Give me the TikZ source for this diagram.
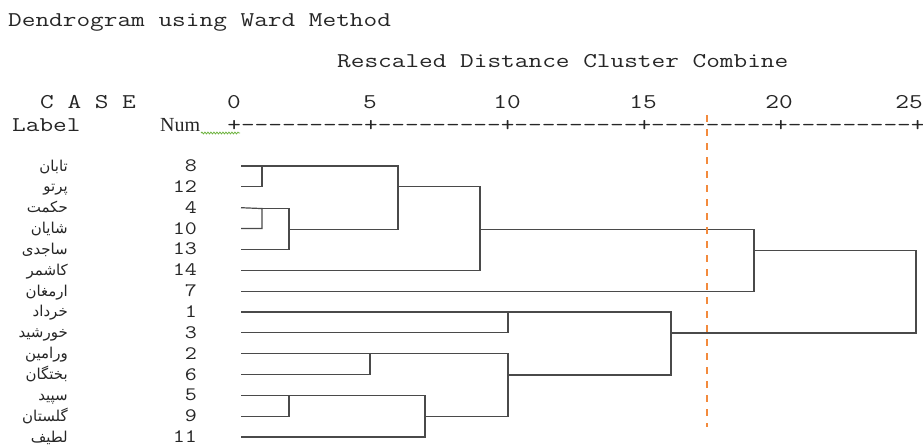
\documentclass[tikz,border=0pt]{standalone}
\usepackage{fontspec}
\setmainfont{Liberation Serif}
\newfontfamily\arabicfont[Script=Arabic]{DejaVu Sans}
\TeXXeTstate=1
\usetikzlibrary{decorations.pathmorphing}
\definecolor{txt}{HTML}{262626}
\definecolor{dline}{HTML}{4A4A4A}
\definecolor{cutc}{HTML}{F38A3C}
\definecolor{squig}{HTML}{6DB33F}
\newcommand{\monobig}{\fontsize{21}{24}\selectfont\ttfamily}
\newcommand{\mononum}{\fontsize{19}{22}\selectfont\ttfamily}
\newcommand{\wide}[1]{\scalebox{1.264}[1]{#1}}
\newcommand{\widen}[1]{\scalebox{1.229}[1]{#1}}
\tikzset{
  mtext/.style={inner sep=0pt, anchor=base west, text=txt, font=\monobig},
  ticklab/.style={inner sep=0pt, anchor=base, text=txt, font=\monobig},
  numlab/.style={inner sep=0pt, anchor=base east, text=txt, font=\mononum},
  namelab/.style={inner sep=0pt, anchor=base east, text=txt, font=\arabicfont\fontsize{15}{17}\selectfont},
  tree/.style={draw=dline, line width=1.2pt},
  cutline/.style={draw=cutc, line width=2.8pt, dash pattern=on 7pt off 7pt},
}
\begin{document}
\begin{tikzpicture}[x=1pt,y=-1pt]
\useasboundingbox (0,0) rectangle (923,445);
% headings
\node[mtext] (title) at (8,26) {\wide{Dendrogram using Ward Method}};
\node[mtext] (sub) at (337,67) {\wide{Rescaled Distance Cluster Combine}};
\node[mtext] (case) at (40,108) {\wide{C A S E}};
\node[mtext] (label) at (12,131) {\wide{Label}};
\node[inner sep=0pt, anchor=base west, text=txt, font=\fontsize{20}{22}\selectfont\rmfamily] (num) at (160,131) {Num};
% axis
\node[ticklab] (t0) at (234,108) {\wide{0}};
\node[ticklab] (t5) at (370,108) {\wide{5}};
\node[ticklab] (t10) at (507,108) {\wide{10}};
\node[ticklab] (t15) at (643,108) {\wide{15}};
\node[ticklab] (t20) at (779,108) {\wide{20}};
\node[ticklab] (t25) at (909,108) {\wide{25}};
\node[mtext] (axis) at (227.2,131) {\wide{+---------+---------+---------+---------+---------+}};
\coordinate (sq1) at (201,133);
\coordinate (sq2) at (240,133);
\draw[squig, line width=0.8pt, decorate, decoration={snake, amplitude=0.9pt, segment length=3pt}] (sq1) -- (sq2);
% rows
\foreach \n/\id/\nm [count=\i from 0] in {
  8/l8/{تابان},
  12/l12/{پرتو},
  4/l4/{حکمت},
  10/l10/{شایان},
  13/l13/{ساجدی},
  14/l14/{کاشمر},
  7/l7/{ارمغان},
  1/l1/{خرداد},
  3/l3/{خورشید},
  2/l2/{ورامین},
  6/l6/{بختگان},
  5/l5/{سپید},
  9/l9/{گلستان},
  11/l11/{لطیف}} {
  \pgfmathsetmacro{\yy}{166+20.85*\i}
  \coordinate (\id) at (241,\yy);
  \node[numlab] (n\id) at (197,\yy+5.5) {\widen{\n}};
  \node[namelab] (p\id) at (68,\yy+5) {\beginR\nm\endR};
}
% upper cluster
\coordinate (c1) at (262,166);
\draw[tree] (l8) -- (c1) |- (l12);
\coordinate (c2) at (262,208.55);
\draw[tree] (l4) -- (c2) |- (l10);
\coordinate (c3) at (289,229.4);
\draw[tree] (c2) -- (c2 -| c3) |- (l13);
\coordinate (c4) at (398,186.85);
\draw[tree] (c1) -- (c1 -| c4) |- (c3);
\coordinate (c5) at (480,229.4);
\draw[tree] (c4) -- (c4 -| c5) |- (l14);
\coordinate (c6) at (754,250.25);
\draw[tree] (c5) -- (c5 -| c6) |- (l7);
% lower cluster
\coordinate (d1) at (508,312);
\draw[tree] (l1) -- (d1 |- l1) |- (l3);
\coordinate (d2) at (370,354);
\draw[tree] (l2) -- (d2 |- l2) |- (l6);
\coordinate (d3) at (289,396);
\draw[tree] (l5) -- (d3 |- l5) |- (l9);
\coordinate (d4) at (425,416.8);
\draw[tree] (d3 |- l5) -- (d4 |- l5) |- (l11);
\coordinate (d5) at (508,375);
\draw[tree] (d2 |- l2) -- (d5 |- l2) |- (d4);
\coordinate (d6) at (671,333);
\draw[tree] (d1 |- l1) -- (d6 |- l1) |- (d5);
% root
\coordinate (r) at (916,290);
\draw[tree] (c6) -- (c6 -| r) |- (d6);
% cut line
\coordinate (cutTop) at (707,115);
\coordinate (cutBot) at (707,427);
\draw[cutline] (cutTop) -- (cutBot);
\end{tikzpicture}
\end{document}
